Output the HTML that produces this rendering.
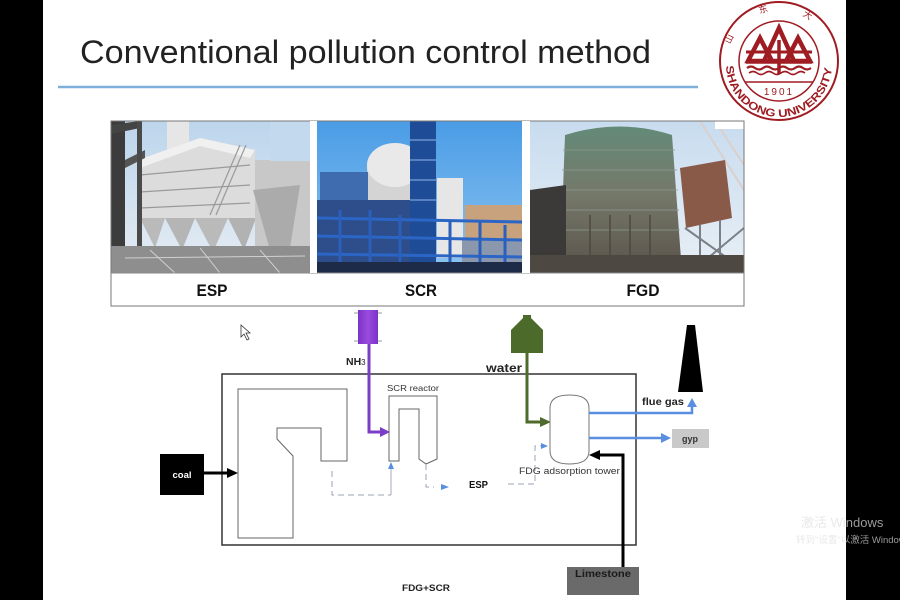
<!DOCTYPE html>
<html><head><meta charset="utf-8"><style>
html,body{margin:0;padding:0;background:#000;}
svg{display:block;}
text{font-family:"Liberation Sans","Noto Sans CJK SC",sans-serif;}
</style></head><body>
<svg width="900" height="600" viewBox="0 0 900 600" xmlns="http://www.w3.org/2000/svg">
<defs>
<linearGradient id="sky1" x1="0" y1="0" x2="0" y2="1"><stop offset="0" stop-color="#bcd5ec"/><stop offset="1" stop-color="#e6edf3"/></linearGradient>
<linearGradient id="sky2" x1="0" y1="0" x2="0" y2="1"><stop offset="0" stop-color="#4a9ce6"/><stop offset="1" stop-color="#8ec5f0"/></linearGradient>
<linearGradient id="sky3" x1="0" y1="0" x2="0" y2="1"><stop offset="0" stop-color="#c8dcef"/><stop offset="1" stop-color="#e8eff6"/></linearGradient>
<linearGradient id="tow" x1="0" y1="0" x2="0" y2="1"><stop offset="0" stop-color="#648a78"/><stop offset="0.45" stop-color="#75796a"/><stop offset="1" stop-color="#5a524a"/></linearGradient>
<linearGradient id="nh3" x1="0" y1="0" x2="1" y2="0"><stop offset="0" stop-color="#7a34c4"/><stop offset="0.5" stop-color="#9a4ae0"/><stop offset="1" stop-color="#7a34c4"/></linearGradient>
<clipPath id="c1"><rect x="111" y="121" width="199" height="152"/></clipPath>
<clipPath id="c2"><rect x="317" y="121" width="205" height="152"/></clipPath>
<clipPath id="c3"><rect x="530" y="121" width="214" height="152"/></clipPath>
<clipPath id="cw"><rect x="43" y="500" width="803" height="60"/></clipPath>
<clipPath id="cb"><rect x="846" y="500" width="54" height="60"/></clipPath>
<path id="arcB" d="M726,64 A53,53 0 0 0 832,64"/>
<path id="arcT" d="M728,52 A52,52 0 0 1 830,52"/>
</defs>

<!-- slide -->
<rect x="43" y="0" width="803" height="600" fill="#fff"/>

<!-- title -->
<text x="80" y="63" font-size="32" fill="#222" textLength="571" lengthAdjust="spacingAndGlyphs">Conventional pollution control method</text>
<line x1="58" y1="87" x2="698" y2="87" stroke="#7fb0dc" stroke-width="2.5"/>

<!-- logo -->
<g stroke="#9e1c22" fill="none">
<circle cx="779" cy="61" r="59" stroke-width="2" fill="#fff"/>
<circle cx="779" cy="61" r="40" stroke-width="1.5"/>
<line x1="745" y1="82" x2="813" y2="82" stroke-width="1.5"/>
<polygon points="760,38 748,61 772,61" stroke-width="4.5" stroke-linejoin="miter"/>
<polygon points="798,38 786,61 810,61" stroke-width="4.5" stroke-linejoin="miter"/>
<polygon points="779,28 764,61 794,61" stroke-width="4.5" stroke-linejoin="miter"/>
<line x1="746" y1="52" x2="812" y2="52" stroke-width="3"/>
<line x1="746" y1="62" x2="812" y2="62" stroke-width="3.5"/>
<line x1="779" y1="40" x2="779" y2="74" stroke-width="3.5"/>
<path d="M747,68 q4,-3 8,0 t8,0 t8,0 t8,0 t8,0 t8,0 t8,0 t8,0" stroke-width="2.2"/>
<path d="M749,73 q4,-3 8,0 t8,0 t8,0 t8,0 t8,0 t8,0 t8,0" stroke-width="1.6"/>
</g>
<text x="779" y="95" font-size="10" fill="#9e1c22" text-anchor="middle" letter-spacing="2">1901</text>
<text font-size="11" font-weight="bold" fill="#9e1c22"><textPath href="#arcB" startOffset="2" textLength="160" lengthAdjust="spacingAndGlyphs">SHANDONG UNIVERSITY</textPath></text>
<text font-size="9" fill="#9e1c22"><textPath href="#arcT" startOffset="8" textLength="140" lengthAdjust="spacing">山  东  大  学</textPath></text>

<!-- photos -->
<g clip-path="url(#c1)">
<rect x="111" y="121" width="199" height="152" fill="url(#sky1)"/>
<rect x="167" y="121" width="22" height="30" fill="#e6e6e6"/>
<polygon points="138,160 200,138 255,150 255,218 138,218" fill="#dcdcdc"/>
<polygon points="138,160 200,138 255,150 250,158 200,146 140,168" fill="#f0f0f0"/>
<g stroke="#9a9a9a" stroke-width="1.2">
<line x1="140" y1="175" x2="250" y2="165"/><line x1="140" y1="192" x2="250" y2="185"/><line x1="140" y1="208" x2="250" y2="203"/>
<line x1="210" y1="215" x2="240" y2="145"/><line x1="216" y1="215" x2="246" y2="145"/>
</g>
<polygon points="140,218 165,218 155,248" fill="#bababa"/>
<polygon points="165,218 195,218 182,250" fill="#b5b5b5"/>
<polygon points="195,218 228,218 213,252" fill="#bababa"/>
<polygon points="228,218 256,218 244,250" fill="#b2b2b2"/>
<rect x="255" y="160" width="55" height="113" fill="#c8c8c8"/>
<polygon points="253,190 300,185 290,248 270,250" fill="#ababab"/>
<rect x="270" y="121" width="40" height="40" fill="#c2d9ee"/>
<rect x="111" y="121" width="14" height="152" fill="#3c3c3c"/>
<polygon points="111,125 140,121 140,128 111,134" fill="#444"/>
<polygon points="125,160 145,150 145,158 125,168" fill="#555"/>
<rect x="137" y="121" width="5" height="152" fill="#4a4a4a"/>
<rect x="111" y="246" width="199" height="27" fill="#8e8e8e"/>
<g stroke="#d0d0d0" stroke-width="1"><line x1="125" y1="258" x2="305" y2="256"/><line x1="150" y1="250" x2="175" y2="273"/><line x1="200" y1="248" x2="220" y2="273"/><line x1="260" y1="250" x2="280" y2="273"/></g>
</g>

<g clip-path="url(#c2)">
<rect x="317" y="121" width="205" height="152" fill="url(#sky2)"/>
<rect x="367" y="165" width="56" height="55" fill="#d4d4d4"/>
<ellipse cx="395" cy="165" rx="28" ry="22" fill="#e9e9e9"/>
<rect x="320" y="172" width="48" height="48" fill="#3e6cae"/>
<rect x="317" y="200" width="110" height="73" fill="#2d4e8a"/>
<rect x="410" y="121" width="26" height="152" fill="#1f4c96"/>
<g stroke="#8fb6e8" stroke-width="1"><line x1="410" y1="140" x2="436" y2="140"/><line x1="410" y1="160" x2="436" y2="160"/><line x1="410" y1="180" x2="436" y2="180"/><line x1="410" y1="200" x2="436" y2="200"/></g>
<rect x="437" y="178" width="26" height="80" fill="#e6e6e6"/>
<rect x="465" y="205" width="57" height="40" fill="#c7a27c"/>
<rect x="462" y="240" width="60" height="33" fill="#8b97ad"/>
<g stroke="#2b66c6" stroke-width="3"><line x1="317" y1="218" x2="522" y2="222"/><line x1="317" y1="236" x2="522" y2="240"/><line x1="317" y1="254" x2="522" y2="257"/></g>
<g stroke="#2a5fbb" stroke-width="3"><line x1="340" y1="210" x2="340" y2="273"/><line x1="370" y1="210" x2="370" y2="273"/><line x1="400" y1="215" x2="400" y2="273"/><line x1="450" y1="220" x2="450" y2="273"/><line x1="480" y1="222" x2="480" y2="273"/><line x1="505" y1="225" x2="505" y2="273"/></g>
<rect x="317" y="262" width="205" height="11" fill="#1d2a48"/>
</g>

<g clip-path="url(#c3)">
<rect x="530" y="121" width="214" height="152" fill="url(#sky3)"/>
<g stroke="#d9d0cc" stroke-width="2"><line x1="700" y1="121" x2="744" y2="190"/><line x1="715" y1="121" x2="744" y2="165"/></g>
<path d="M565,135 Q620,118 672,135 L682,273 L560,273 Z" fill="url(#tow)"/>
<g stroke="#8c9a90" stroke-width="1" opacity="0.8"><line x1="563" y1="150" x2="675" y2="150"/><line x1="562" y1="170" x2="677" y2="170"/><line x1="561" y1="190" x2="678" y2="190"/><line x1="561" y1="210" x2="679" y2="210"/><line x1="560" y1="230" x2="680" y2="230"/></g>
<g stroke="#4e4740" stroke-width="1.5"><line x1="590" y1="215" x2="590" y2="265"/><line x1="610" y1="215" x2="610" y2="265"/><line x1="630" y1="215" x2="630" y2="265"/><line x1="650" y1="215" x2="650" y2="265"/></g>
<polygon points="530,190 566,185 566,273 530,273" fill="#3b3a38"/>
<polygon points="680,168 725,160 732,218 686,228" fill="#8a5a49"/>
<g stroke="#7b7f86" stroke-width="2"><line x1="685" y1="228" x2="744" y2="270"/><line x1="700" y1="225" x2="700" y2="273"/><line x1="720" y1="220" x2="720" y2="273"/><line x1="744" y1="228" x2="690" y2="273"/></g>
<rect x="530" y="255" width="214" height="18" fill="#4e4842"/>
</g>
<rect x="715" y="121" width="29" height="8" fill="#fff"/>

<rect x="111" y="121" width="633" height="185" fill="none" stroke="#777" stroke-width="1"/>
<line x1="111" y1="273" x2="744" y2="273" stroke="#888" stroke-width="1"/>
<rect x="310" y="121" width="7" height="152" fill="#fff"/>
<rect x="522" y="121" width="8" height="152" fill="#fff"/>
<text x="212" y="296" font-size="17" font-weight="bold" fill="#111" text-anchor="middle" textLength="31" lengthAdjust="spacingAndGlyphs">ESP</text>
<text x="421" y="296" font-size="17" font-weight="bold" fill="#111" text-anchor="middle" textLength="32" lengthAdjust="spacingAndGlyphs">SCR</text>
<text x="643" y="296" font-size="17" font-weight="bold" fill="#111" text-anchor="middle" textLength="33" lengthAdjust="spacingAndGlyphs">FGD</text>

<!-- cursor -->
<path d="M241,325 L241,337 L244,334 L247,340 L249,339 L246,333 L250,333 Z" fill="#fff" stroke="#333" stroke-width="0.8"/>

<!-- diagram -->
<rect x="222" y="374" width="414" height="171" fill="none" stroke="#333" stroke-width="1.5"/>
<path d="M238,389 L347,389 L347,461 L321,461 L321,428 L277,428 L277,439 L293,456 L293,538 L238,538 Z" fill="none" stroke="#666" stroke-width="1"/>
<path d="M389,396 L437,396 L437,459 L426,464 L419,459 L419,409 L399,409 L399,461 L389,461 Z" fill="none" stroke="#666" stroke-width="1"/>
<text x="387" y="391" font-size="8.5" fill="#333" textLength="52" lengthAdjust="spacingAndGlyphs">SCR reactor</text>

<!-- dashed flows -->
<g fill="none" stroke="#9aa3b5" stroke-width="1">
<path d="M332,471 L332,495 L391,495" stroke-dasharray="6,4"/>
<line x1="391" y1="495" x2="391" y2="468" stroke="#aab"/>
<path d="M426,464 L426,487 L434,487" stroke-dasharray="6,4"/>
<path d="M508,484 L535,484 L535,446 L542,446" stroke-dasharray="6,4"/>
</g>
<polygon points="391,462 388,469 394,469" fill="#5a8ee0"/>
<polygon points="449,487 441,484 441,490" fill="#5a8ee0"/>
<polygon points="548,446 541,443 541,449" fill="#5a8ee0"/>
<text x="469" y="488" font-size="10" font-weight="bold" fill="#111" textLength="19" lengthAdjust="spacingAndGlyphs">ESP</text>

<!-- coal -->
<rect x="160" y="454" width="44" height="41" fill="#000"/>
<text x="182" y="478" font-size="9.5" font-weight="bold" fill="#fff" text-anchor="middle">coal</text>
<line x1="204" y1="473" x2="228" y2="473" stroke="#000" stroke-width="3"/>
<polygon points="238,473 227,468 227,478" fill="#000"/>

<!-- NH3 -->
<line x1="354" y1="313" x2="382" y2="313" stroke="#999" stroke-width="1"/>
<line x1="354" y1="341" x2="382" y2="341" stroke="#999" stroke-width="1"/>
<rect x="358" y="310" width="20" height="34" fill="url(#nh3)"/>
<path d="M369,344 L369,432 L381,432" fill="none" stroke="#7b3cc6" stroke-width="3"/>
<polygon points="390,432 380,427 380,437" fill="#7b3cc6"/>
<text x="346" y="365" font-size="10.5" font-weight="bold" fill="#222">NH<tspan font-size="8" font-weight="normal">3</tspan></text>

<!-- water -->
<polygon points="523,315 531,315 531,318 543,330 543,353 511,353 511,330 523,318" fill="#4c6b2b"/>
<path d="M527,353 L527,422 L541,422" fill="none" stroke="#4e6a2c" stroke-width="3"/>
<polygon points="551,422 540,417 540,427" fill="#4e6a2c"/>
<text x="486" y="372" font-size="12" font-weight="bold" fill="#222" textLength="36" lengthAdjust="spacingAndGlyphs">water</text>

<!-- FDG tower -->
<path d="M550,408 Q550,395 569.5,395 Q589,395 589,408 L589,451 Q589,464 569.5,464 Q550,464 550,451 Z" fill="#fff" stroke="#777" stroke-width="1"/>
<text x="519" y="474" font-size="9" fill="#333" textLength="101" lengthAdjust="spacingAndGlyphs">FDG adsorption tower</text>

<!-- flue gas & gyp -->
<path d="M589,413 L692,413 L692,406" fill="none" stroke="#5a8ee0" stroke-width="2.5"/>
<polygon points="692,398 687,407 697,407" fill="#5a8ee0"/>
<text x="642" y="405" font-size="10.5" font-weight="bold" fill="#222" textLength="42" lengthAdjust="spacingAndGlyphs">flue gas</text>
<polygon points="687,325 695,325 703,392 678,392" fill="#000"/>
<line x1="589" y1="438" x2="662" y2="438" stroke="#5a8ee0" stroke-width="2.5"/>
<polygon points="671,438 661,433 661,443" fill="#5a8ee0"/>
<rect x="672" y="429" width="37" height="19" fill="#c9c9c9"/>
<text x="690" y="442" font-size="9" font-weight="bold" fill="#333" text-anchor="middle">gyp</text>

<!-- limestone -->
<path d="M623,567 L623,455 L599,455" fill="none" stroke="#000" stroke-width="3"/>
<polygon points="589,455 600,450 600,460" fill="#000"/>
<rect x="567" y="567" width="72" height="28" fill="#6a6a6a"/>
<text x="603" y="577" font-size="10.5" font-weight="bold" fill="#1a1a1a" text-anchor="middle" textLength="56" lengthAdjust="spacingAndGlyphs">Limestone</text>

<text x="402" y="591" font-size="9.5" font-weight="bold" fill="#222" textLength="48" lengthAdjust="spacingAndGlyphs">FDG+SCR</text>

<!-- side bar right -->
<rect x="846" y="0" width="54" height="600" fill="#000"/>

<!-- watermark -->
<g clip-path="url(#cw)" fill="#e9e9e9">
<text x="801" y="527" font-size="13">激活 Windows</text>
<text x="796" y="543" font-size="9.5">转到"设置"以激活 Windows。</text>
</g>
<g clip-path="url(#cb)" fill="#9a9a9a">
<text x="801" y="527" font-size="13">激活 Windows</text>
<text x="796" y="543" font-size="9.5">转到"设置"以激活 Windows。</text>
</g>
</svg>
</body></html>
